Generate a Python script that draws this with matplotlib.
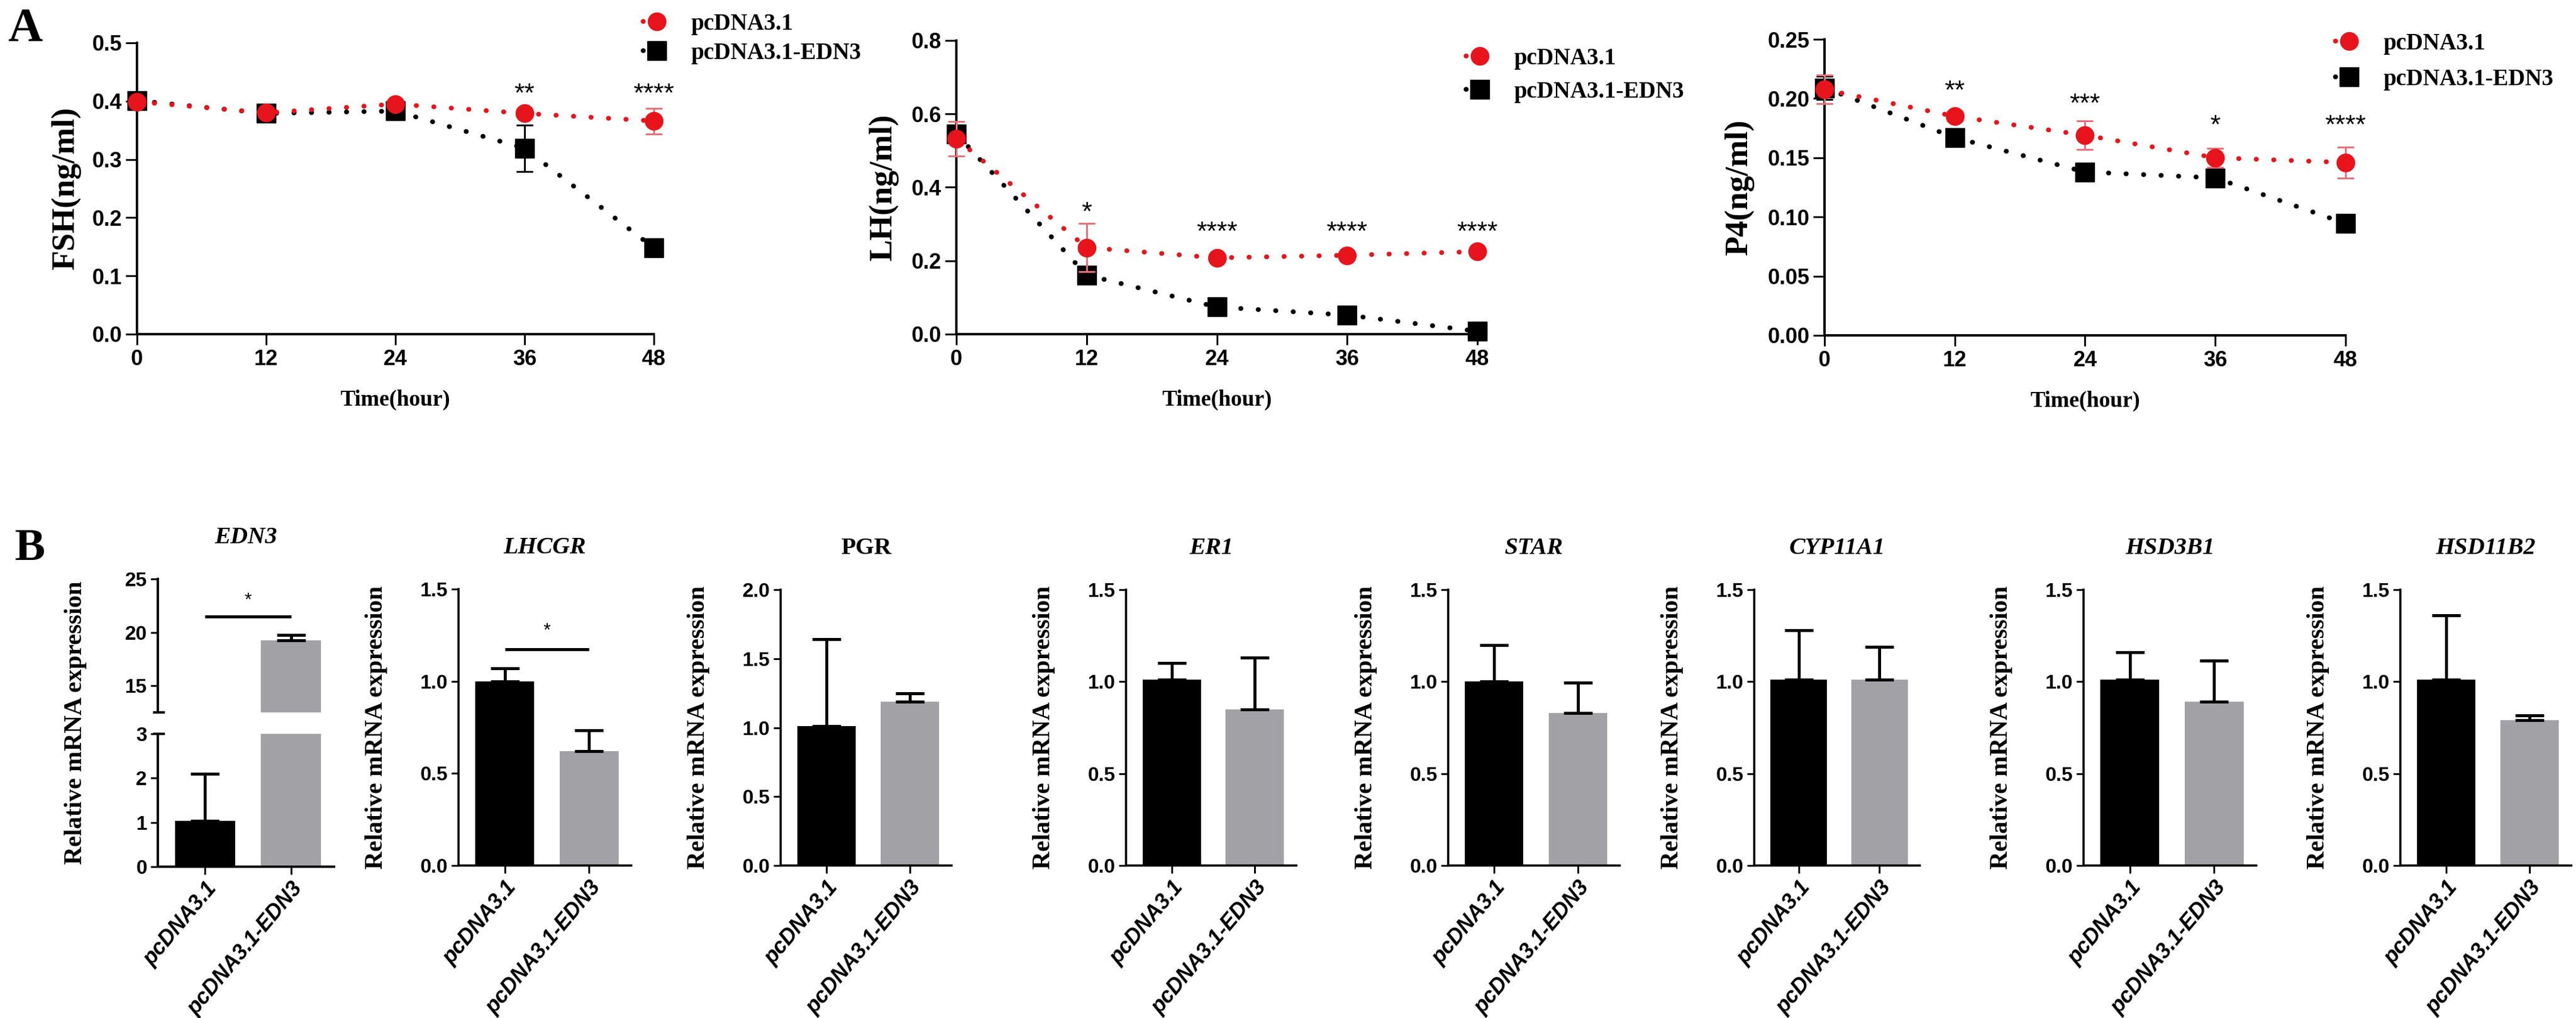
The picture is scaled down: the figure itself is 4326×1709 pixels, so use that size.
import matplotlib
matplotlib.use('Agg')
import matplotlib.pyplot as plt
from matplotlib.transforms import blended_transform_factory
from matplotlib.ticker import FormatStrFormatter

# ---------------- data ----------------
hours = [0, 12, 24, 36, 48]
series_names = ['pcDNA3.1', 'pcDNA3.1-EDN3']

fsh_ctrl = [0.399, 0.380, 0.395, 0.379, 0.366]
fsh_ctrl_err = [0.006, 0.005, 0.006, 0.006, 0.022]
fsh_edn3 = [0.401, 0.379, 0.383, 0.319, 0.148]
fsh_edn3_err = [0.008, 0.006, 0.005, 0.040, 0.008]
fsh_stars = ['', '', '', '**', '****']
fsh_star_y = [0, 0, 0, 0.424, 0.424]

lh_ctrl = [0.533, 0.236, 0.208, 0.215, 0.225]
lh_ctrl_err = [0.047, 0.066, 0.008, 0.008, 0.008]
lh_edn3 = [0.546, 0.161, 0.074, 0.052, 0.008]
lh_edn3_err = [0.015, 0.018, 0.010, 0.008, 0.008]
lh_stars = ['', '*', '****', '****', '****']
lh_star_y = [0, 0.35, 0.296, 0.296, 0.296]

p4_ctrl = [0.2076, 0.185, 0.169, 0.150, 0.146]
p4_ctrl_err = [0.012, 0.004, 0.012, 0.008, 0.013]
p4_edn3 = [0.209, 0.167, 0.138, 0.133, 0.0945]
p4_edn3_err = [0.010, 0.006, 0.004, 0.006, 0.006]
p4_stars = ['', '**', '***', '*', '****']
p4_star_y = [0, 0.212, 0.201, 0.183, 0.183]

genes = ['EDN3', 'LHCGR', 'PGR', 'ER1', 'STAR', 'CYP11A1', 'HSD3B1', 'HSD11B2']
gene_italic = [True, True, False, True, True, True, True, True]
ctrl_mean = [1.03, 1.00, 1.01, 1.01, 1.00, 1.01, 1.01, 1.01]
ctrl_sem = [1.07, 0.07, 0.63, 0.09, 0.20, 0.27, 0.15, 0.35]
edn3_mean = [19.25, 0.62, 1.19, 0.85, 0.83, 1.01, 0.89, 0.79]
edn3_sem = [0.52, 0.115, 0.06, 0.28, 0.165, 0.18, 0.225, 0.025]
bar_ymax = [25, 1.5, 2.0, 1.5, 1.5, 1.5, 1.5, 1.5]
sig_line_y = {'EDN3': 21.5, 'LHCGR': 1.173}
sig_star_y = {'EDN3': 23.3, 'LHCGR': 1.29}
edn3_upper_ticks = [15, 20, 25]
edn3_lower_ticks = [0, 1, 2, 3]
edn3_break = [3, 12.5]

# ---------------- style ----------------
W, H = 4326, 1709
PX = 0.72  # points per pixel at dpi 100
SERIF = 'Liberation Serif'
SANS = 'Liberation Sans'
RED = '#E8141B'
RED_ERR = '#E8707A'
GRAY = '#A2A2A6'

fig = plt.figure(figsize=(W / 100, H / 100), dpi=100)


def add_ax(l, t, r, b):
    return fig.add_axes([l / W, 1 - b / H, (r - l) / W, (b - t) / H])


def style_axis(ax, spine_lw, tick_len_x, tick_len_y, tick_w, tick_size):
    for s in ['top', 'right']:
        ax.spines[s].set_visible(False)
    for s in ['left', 'bottom']:
        ax.spines[s].set_linewidth(spine_lw)
    ax.tick_params(axis='x', length=tick_len_x, width=tick_w, direction='out', pad=5)
    ax.tick_params(axis='y', length=tick_len_y, width=tick_w, direction='out', pad=4)
    for lab in ax.get_yticklabels() + ax.get_xticklabels():
        lab.set_fontfamily(SANS)
        lab.set_fontweight('bold')
        lab.set_fontsize(tick_size)


def noclip(container):
    for a in container.get_children():
        a.set_clip_on(False)


dot_style = (0, (0.05, 3.6))

top_panels = [
    dict(box=(230, 72, 1098, 561), ylabel='FSH(ng/ml)', ymax=0.5,
         yticks=[0, 0.1, 0.2, 0.3, 0.4, 0.5], fmt='%.1f',
         ctrl=fsh_ctrl, ctrl_err=fsh_ctrl_err, edn3=fsh_edn3, edn3_err=fsh_edn3_err,
         stars=fsh_stars, star_y=fsh_star_y, leg=(1080, 22), lsp=0.3, yl_off=119),
    dict(box=(1606, 68, 2481, 561), ylabel='LH(ng/ml)', ymax=0.8,
         yticks=[0, 0.2, 0.4, 0.6, 0.8], fmt='%.1f',
         ctrl=lh_ctrl, ctrl_err=lh_ctrl_err, edn3=lh_edn3, edn3_err=lh_edn3_err,
         stars=lh_stars, star_y=lh_star_y, leg=(2462, 80), lsp=0.49, yl_off=122),
    dict(box=(3064, 66, 3939, 563), ylabel='P4(ng/ml)', ymax=0.25,
         yticks=[0, 0.05, 0.10, 0.15, 0.20, 0.25], fmt='%.2f',
         ctrl=p4_ctrl, ctrl_err=p4_ctrl_err, edn3=p4_edn3, edn3_err=p4_edn3_err,
         stars=p4_stars, star_y=p4_star_y, leg=(3922, 55), lsp=0.58, yl_off=143),
]

for p in top_panels:
    ax = add_ax(*p['box'])
    ax.set_xlim(0, 48)
    ax.set_ylim(0, p['ymax'])
    ax.set_xticks(hours)
    ax.set_yticks(p['yticks'])
    ax.yaxis.set_major_formatter(FormatStrFormatter(p['fmt']))
    style_axis(ax, 2.9, 13, 14, 2.2, 26)

    eb = ax.errorbar(hours, p['edn3'], yerr=p['edn3_err'], fmt='none', ecolor='black',
                     elinewidth=2.2, capsize=10, capthick=2.2, zorder=3)
    noclip(eb)
    l2, = ax.plot(hours, p['edn3'], linestyle=dot_style, lw=5.8, color='black',
                  marker='s', ms=22.5, dash_capstyle='round', zorder=4, clip_on=False,
                  label=series_names[1])
    eb = ax.errorbar(hours, p['ctrl'], yerr=p['ctrl_err'], fmt='none', ecolor=RED_ERR,
                     elinewidth=2.2, capsize=10, capthick=2.2, zorder=5)
    noclip(eb)
    l1, = ax.plot(hours, p['ctrl'], linestyle=dot_style, lw=5.8, color=RED,
                  marker='o', ms=21.6, dash_capstyle='round', zorder=6, clip_on=False,
                  label=series_names[0])

    for x, s, y in zip(hours, p['stars'], p['star_y']):
        if s:
            ax.annotate(s, (x, y), xytext=(0, -24 * PX), textcoords='offset points',
                        ha='center', va='baseline', fontsize=32, fontfamily=SANS)

    ax.text(-p['yl_off'] / (p['box'][2] - p['box'][0]), 0.5, p['ylabel'],
            transform=ax.transAxes, rotation=90, ha='center', va='center',
            fontsize=39, fontfamily=SERIF, fontweight='bold')
    ax.annotate('Time(hour)', (0.5, 0), xycoords='axes fraction',
                xytext=(0, -110 * PX), textcoords='offset points', ha='center', va='center',
                fontsize=27, fontfamily=SERIF, fontweight='bold')

    lx, ly = p['leg']
    ax.legend(handles=[l1, l2], loc='upper left', bbox_to_anchor=(lx / W, 1 - ly / H),
              bbox_transform=fig.transFigure, frameon=False, borderpad=0, borderaxespad=0,
              handlelength=1.2, handletextpad=0.87, labelspacing=p['lsp'], numpoints=1,
              prop=dict(family=SERIF, weight='bold', size=28))

fig.text(42 / W, 1 - 69 / H, 'A', ha='center', va='baseline', fontsize=58,
         fontfamily=SERIF, fontweight='bold')
fig.text(50 / W, 1 - 940 / H, 'B', ha='center', va='baseline', fontsize=55,
         fontfamily=SERIF, fontweight='bold')

# ---------------- bottom row ----------------
bottom_boxes = [
    None,
    (770, 989, 1060, 1453),
    (1311, 990, 1598, 1453),
    (1891, 990, 2177, 1453),
    (2432, 990, 2720, 1453),
    (2946, 990, 3224, 1453),
    (3499, 990, 3789, 1453),
    (4031, 990, 4318, 1453),
]
xpos = [0, 1]
XLIM = (-0.55, 1.5)
BW = 0.7
YL_OFF = 138
groups_labels = series_names


def bar_panel(ax, i):
    ax.bar(xpos, [ctrl_mean[i], edn3_mean[i]], width=BW, color=['black', GRAY], zorder=2)
    ax.errorbar(xpos, [ctrl_mean[i], edn3_mean[i]],
                yerr=[[0, 0], [ctrl_sem[i], edn3_sem[i]]], fmt='none', ecolor='black',
                elinewidth=3.6, capsize=17, capthick=3.6, zorder=3)
    ax.set_xlim(*XLIM)


def bottom_xlabels(ax):
    ax.set_xticks(xpos)
    ax.set_xticklabels(groups_labels, rotation=50, ha='right', va='top',
                       rotation_mode='anchor')
    for lab in ax.get_xticklabels():
        lab.set_fontfamily(SANS)
        lab.set_fontweight('bold')
        lab.set_fontstyle('italic')
        lab.set_fontsize(26)


def title(ax, i):
    ax.annotate(genes[i], (0.5, 1), xycoords='axes fraction', xytext=(0, 60 * PX),
                textcoords='offset points', ha='center', va='baseline', fontsize=29,
                fontfamily=SERIF, fontweight='bold',
                fontstyle='italic' if gene_italic[i] else 'normal')


def sig(ax, g):
    if g in sig_line_y:
        ax.plot(xpos, [sig_line_y[g]] * 2, color='black', lw=3.6, solid_capstyle='butt',
                clip_on=False, zorder=4)
        ax.annotate('*', (0.5, sig_star_y[g]), xytext=(0, -14 * PX),
                    textcoords='offset points', ha='center', va='baseline',
                    fontsize=22, fontfamily=SANS)


def ylab(ax, width_px, y=0.5):
    ax.text(-YL_OFF / width_px, y, 'Relative mRNA expression', transform=ax.transAxes,
            rotation=90, ha='center', va='center', fontsize=30, fontfamily=SERIF,
            fontweight='bold')


# EDN3 broken axis
axu = add_ax(265, 972, 561, 1196)
axl = add_ax(265, 1232, 561, 1455)
for a in (axu, axl):
    bar_panel(a, 0)
axu.set_ylim(edn3_break[1], bar_ymax[0])
axl.set_ylim(0, edn3_break[0])
axu.set_yticks(edn3_upper_ticks)
axl.set_yticks(edn3_lower_ticks)
axu.set_xticks([])
style_axis(axu, 2.9, 9, 9, 2.2, 24)
style_axis(axl, 2.9, 9, 9, 2.2, 24)
axu.spines['bottom'].set_visible(False)
axu.tick_params(axis='x', length=0)
bottom_xlabels(axl)
for a, yv in ((axu, edn3_break[1]), (axl, edn3_break[0])):
    tr = blended_transform_factory(a.transAxes, a.transData)
    a.plot([-8 / 296, 12 / 296], [yv, yv], color='black', lw=3.0, transform=tr,
           clip_on=False, solid_capstyle='butt')
title(axu, 0)
sig(axu, 'EDN3')
ylab(axl, 296, y=(1455 - 1213) / (1455 - 1232))

for i in range(1, 8):
    box = bottom_boxes[i]
    ax = add_ax(*box)
    bar_panel(ax, i)
    ax.set_ylim(0, bar_ymax[i])
    ax.set_yticks([v * 0.5 for v in range(int(bar_ymax[i] / 0.5) + 1)])
    ax.yaxis.set_major_formatter(FormatStrFormatter('%.1f'))
    style_axis(ax, 2.6, 9, 9, 2.2, 24)
    bottom_xlabels(ax)
    title(ax, i)
    sig(ax, genes[i])
    ylab(ax, box[2] - box[0])

fig.savefig('out.png', dpi=100, facecolor='white')
